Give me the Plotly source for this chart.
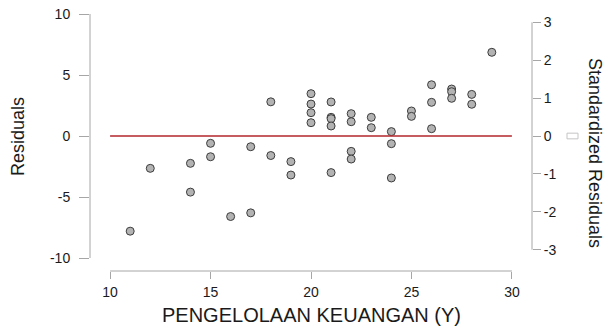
import plotly.graph_objects as go

# ---- data ----
pengelolaan = [11, 12, 14, 14, 15, 15, 16, 17, 17, 18, 18, 19, 19,
               20, 20, 20, 20, 21, 21, 21, 21, 21, 22, 22, 22, 22,
               23, 23, 24, 24, 24, 25, 25, 26, 26, 26, 27, 27, 27, 28, 28, 29]
residuals = [-7.8, -2.65, -2.24, -4.6, -0.6, -1.7, -6.6, -6.3, -0.88, 2.8, -1.6, -2.1, -3.2,
             3.47, 2.62, 1.91, 1.09, 2.79, 1.53, 1.42, 0.82, -3.0, 1.83, 1.17, -1.26, -1.89,
             1.53, 0.68, 0.36, -0.63, -3.44, 2.05, 1.61, 4.2, 2.76, 0.6, 3.85, 3.63, 3.09, 3.41, 2.6, 6.86]

x_ticks = [10, 15, 20, 25, 30]
x_tick_labels = ["10", "15", "20", "25", "30"]
y_ticks = [-10, -5, 0, 5, 10]
y_tick_labels = ["-10", "-5", "0", "5", "10"]
y2_ticks = [-3, -2, -1, 0, 1, 2, 3]
y2_tick_labels = ["-3", "-2", "-1", "0", "1", "2", "3"]

x_title = "PENGELOLAAN KEUANGAN (Y)"
y_title = "Residuals"
y2_title = "Standardized Residuals"

FONT = "Liberation Sans, Arial, sans-serif"
AXIS_GRAY = "#a6a6a6"

fig = go.Figure()
fig.add_trace(go.Scatter(
    x=pengelolaan, y=residuals, mode="markers",
    marker=dict(size=8, color="#b3b3b3", line=dict(color="#3c3c3c", width=1)),
    showlegend=False, hoverinfo="x+y"))
# invisible trace to activate the secondary axis
fig.add_trace(go.Scatter(x=[None], y=[None], yaxis="y2", showlegend=False))

# reference line at residual 0 across the x tick range
fig.add_shape(type="line", xref="x", yref="y", x0=min(x_ticks), x1=max(x_ticks), y0=0, y1=0,
              line=dict(color="#b3262b", width=1.5))
# axis lines spanning only the tick range
fig.add_shape(type="line", xref="paper", yref="y", x0=0, x1=0, y0=min(y_ticks), y1=max(y_ticks),
              line=dict(color=AXIS_GRAY, width=1))
fig.add_shape(type="line", xref="paper", yref="y2", x0=1, x1=1, y0=min(y2_ticks), y1=max(y2_ticks),
              line=dict(color=AXIS_GRAY, width=1))
fig.add_shape(type="line", xref="x", yref="paper", x0=min(x_ticks), x1=max(x_ticks), y0=0, y1=0,
              line=dict(color=AXIS_GRAY, width=1))
# small empty glyph box next to the right "0" label
fig.add_shape(type="rect", xref="paper", yref="y2",
              x0=(567 - 90) / 442, x1=(578 - 90) / 442, y0=-0.075, y1=0.075,
              line=dict(color="#c4c4c4", width=1), fillcolor="rgba(0,0,0,0)")

tickfont = dict(family=FONT, size=14, color="#1a1a1a")

fig.update_layout(
    width=607, height=326,
    margin=dict(l=90, r=75, t=10, b=55, autoexpand=False),
    paper_bgcolor="white", plot_bgcolor="white",
    font=dict(family=FONT),
    xaxis=dict(range=[9.0, 31.0], tickvals=x_ticks, ticktext=x_tick_labels,
               ticks="outside", ticklen=7, tickcolor=AXIS_GRAY, tickwidth=1,
               showline=False, showgrid=False, zeroline=False, tickfont=tickfont,
               ticklabelstandoff=1, automargin=False),
    yaxis=dict(range=[-11.066, 10.328], tickvals=y_ticks, ticktext=y_tick_labels,
               ticks="outside", ticklen=10, tickcolor=AXIS_GRAY, tickwidth=1,
               showline=False, showgrid=False, zeroline=False, tickfont=tickfont,
               ticklabelstandoff=6, automargin=False),
    yaxis2=dict(range=[-3.562, 3.325], tickvals=y2_ticks, ticktext=y2_tick_labels,
                overlaying="y", side="right",
                ticks="outside", ticklen=8, tickcolor=AXIS_GRAY, tickwidth=1,
                showline=False, showgrid=False, zeroline=False, tickfont=tickfont,
                ticklabelstandoff=0, automargin=False),
    annotations=[
        dict(text=x_title, xref="x", yref="paper", x=20, y=-0.1686,
             xanchor="center", yanchor="middle", showarrow=False,
             font=dict(family=FONT, size=20, color="#1a1a1a")),
        dict(text=y_title, xref="paper", yref="paper", x=(18 - 90) / 442, y=(271 - 137) / 261,
             xanchor="center", yanchor="middle", textangle=-90, showarrow=False,
             font=dict(family=FONT, size=18, color="#1a1a1a")),
        dict(text=y2_title, xref="paper", yref="paper", x=(595 - 90) / 442, y=(271 - 153) / 261,
             xanchor="center", yanchor="middle", textangle=90, showarrow=False,
             font=dict(family=FONT, size=18, color="#1a1a1a")),
    ],
)

fig.write_html("out.html", config={"displayModeBar": False},
               post_script="document.body.style.margin='0';document.body.style.overflow='hidden';")
